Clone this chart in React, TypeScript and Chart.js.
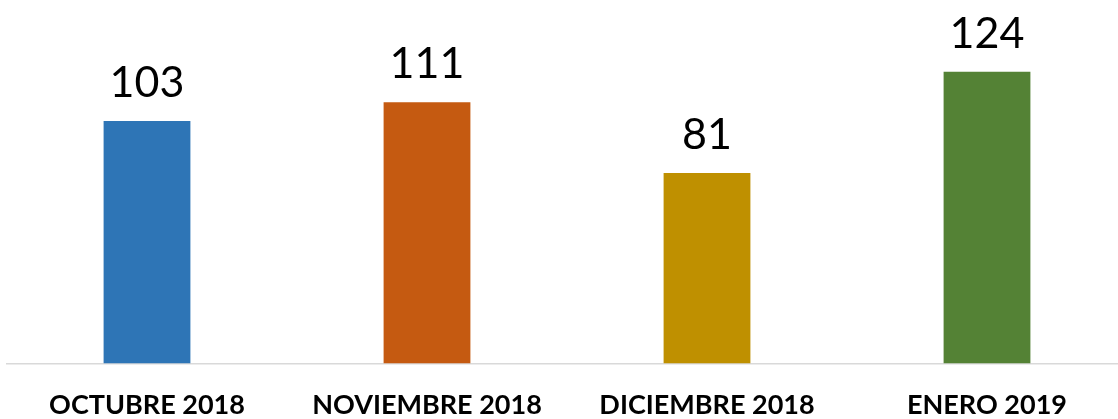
import React, { useEffect, useRef } from "react";
import { Chart, registerables } from "chart.js";

Chart.register(...registerables);

const categories = ["OCTUBRE 2018", "NOVIEMBRE 2018", "DICIEMBRE 2018", "ENERO 2019"];
const values = [103, 111, 81, 124];
const barColors = ["#2E75B6", "#C55A11", "#BF9000", "#548235"];

const valueLabels = {
  id: "valueLabels",
  afterDatasetsDraw(chart: any) {
    const ctx = chart.ctx;
    const meta = chart.getDatasetMeta(0);
    ctx.save();
    ctx.fillStyle = "#000000";
    ctx.font = "43px Lato, 'Open Sans', sans-serif";
    ctx.textAlign = "center";
    ctx.textBaseline = "alphabetic";
    meta.data.forEach((bar: any, i: number) => {
      ctx.fillText(String(values[i]), bar.x, bar.y - 24);
    });
    ctx.restore();
  },
};

export default function App() {
  const ref = useRef<HTMLCanvasElement | null>(null);
  useEffect(() => {
    if (!ref.current) return;
    const chart = new Chart(ref.current, {
      type: "bar",
      data: {
        labels: categories,
        datasets: [
          {
            data: values,
            backgroundColor: barColors,
            categoryPercentage: 1,
            barPercentage: 0.31,
          },
        ],
      },
      options: {
        responsive: false,
        animation: false,
        layout: { padding: { left: 7, right: 7, top: 34, bottom: 0 } },
        plugins: { legend: { display: false }, tooltip: { enabled: false } },
        scales: {
          x: {
            grid: { display: false, drawTicks: false },
            border: { display: true, color: "#d9d9d9", width: 1.5 },
            ticks: {
              color: "#000000",
              padding: 25,
              maxRotation: 0,
              autoSkip: false,
              font: { family: "Lato, 'Open Sans', sans-serif", size: 27, weight: "bold" },
            },
          },
          y: { display: false, min: 0, max: 140 },
        },
      },
      plugins: [valueLabels],
    });
    return () => chart.destroy();
  }, []);
  return (
    <div style={{ position: "fixed", left: 0, top: 0, width: 1118, height: 419, overflow: "hidden", background: "#fff" }}>
      <canvas ref={ref} width={1134} height={446} style={{ display: "block", width: 1134, height: 446 }} />
    </div>
  );
}
